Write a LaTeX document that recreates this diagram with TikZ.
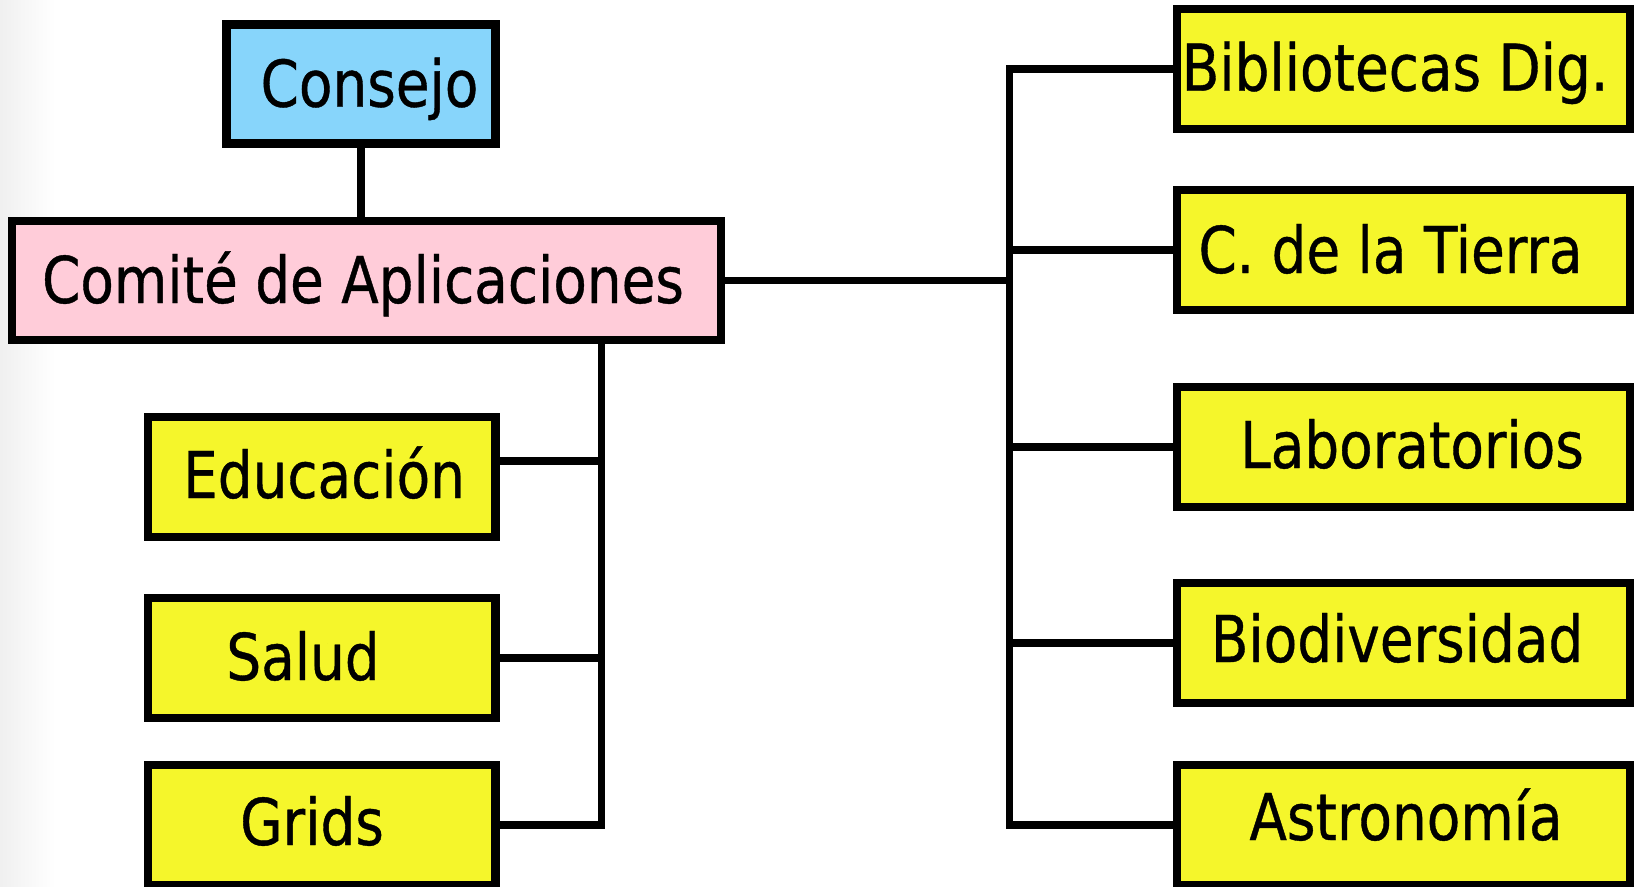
\documentclass[tikz,border=0pt]{standalone}
\usepackage{fontspec}
\newfontfamily\boxfont{DejaVu Sans}[FakeStretch=0.85,FakeBold=0.6]
\definecolor{cblue}{HTML}{87D5FB}
\definecolor{cpink}{HTML}{FFCCD9}
\definecolor{cyel}{HTML}{F5F62B}
\begin{document}
\begin{tikzpicture}[x=0.75pt,y=-0.75pt,
  box/.style={draw=black,line width=6.4pt,inner sep=0pt},
  lbox/.style={box,fill=cyel,minimum width={347.5*0.75pt},minimum height={120*0.75pt}},
  rbox/.style={box,fill=cyel,minimum width={453*0.75pt},minimum height={120*0.75pt}},
  conn/.style={draw=black,line width=5.8pt},
  txt/.style={anchor=base,inner sep=0pt,font=\boxfont\fontsize{48.4}{58}\selectfont}]
\useasboundingbox (0,0) rectangle (1639,886);
\shade[left color=black!6,right color=white] (0,0) rectangle (55,886);
% boxes
\node[box,fill=cblue,minimum width={269.5*0.75pt},minimum height={119.5*0.75pt}] (cons) at (361,84) {};
\node[box,fill=cpink,minimum width={709*0.75pt},minimum height={119*0.75pt}] (com) at (366.5,280.5) {};
\node[lbox] (edu) at (321.7,477) {};
\node[lbox] (sal) at (321.7,658) {};
\node[lbox] (gri) at (321.7,825) {};
\node[rbox] (bib) at (1403.5,68.8) {};
\node[rbox] (ct) at (1403.5,250) {};
\node[rbox] (lab) at (1403.5,446.8) {};
\node[rbox] (bio) at (1403.5,643) {};
\node[rbox] (ast) at (1403.5,825) {};
% texts
\node[txt] (cons-t) at (369.5,106.7) {Consejo};
\node[txt] (com-t) at (363,303) {Comité de Aplicaciones};
\node[txt] (edu-t) at (324,498) {Educación};
\node[txt] (sal-t) at (303,680) {Salud};
\node[txt] (gri-t) at (312,845) {Grids};
\node[txt] (bib-t) at (1395,90.7) {Bibliotecas Dig.};
\node[txt] (ct-t) at (1390.5,273) {C. de la Tierra};
\node[txt] (lab-t) at (1412,468) {Laboratorios};
\node[txt] (bio-t) at (1397,662) {Biodiversidad};
\node[txt] (ast-t) at (1406,840) {Astronomía};
% buses
\coordinate (rbus) at (1009.5,280);
\coordinate (lbus) at (601.5,500);
\coordinate (educ) at ([yshift=12pt]edu.east);
% connectors
\draw[conn] (cons.south) -- (cons.south |- com.north);
\draw[conn] (com.east) -- (com.east -| rbus);
\draw[conn] (bib.west) -- (bib.west -| rbus) -- (ast.west -| rbus) -- (ast.west);
\draw[conn] (ct.west) -- (ct.west -| rbus);
\draw[conn] (lab.west) -- (lab.west -| rbus);
\draw[conn] (bio.west) -- (bio.west -| rbus);
\draw[conn] (lbus |- com.south) -- (lbus |- gri.east) -- (gri.east);
\draw[conn] (educ) -- (educ -| lbus);
\draw[conn] (sal.east) -- (sal.east -| lbus);
\end{tikzpicture}
\end{document}
